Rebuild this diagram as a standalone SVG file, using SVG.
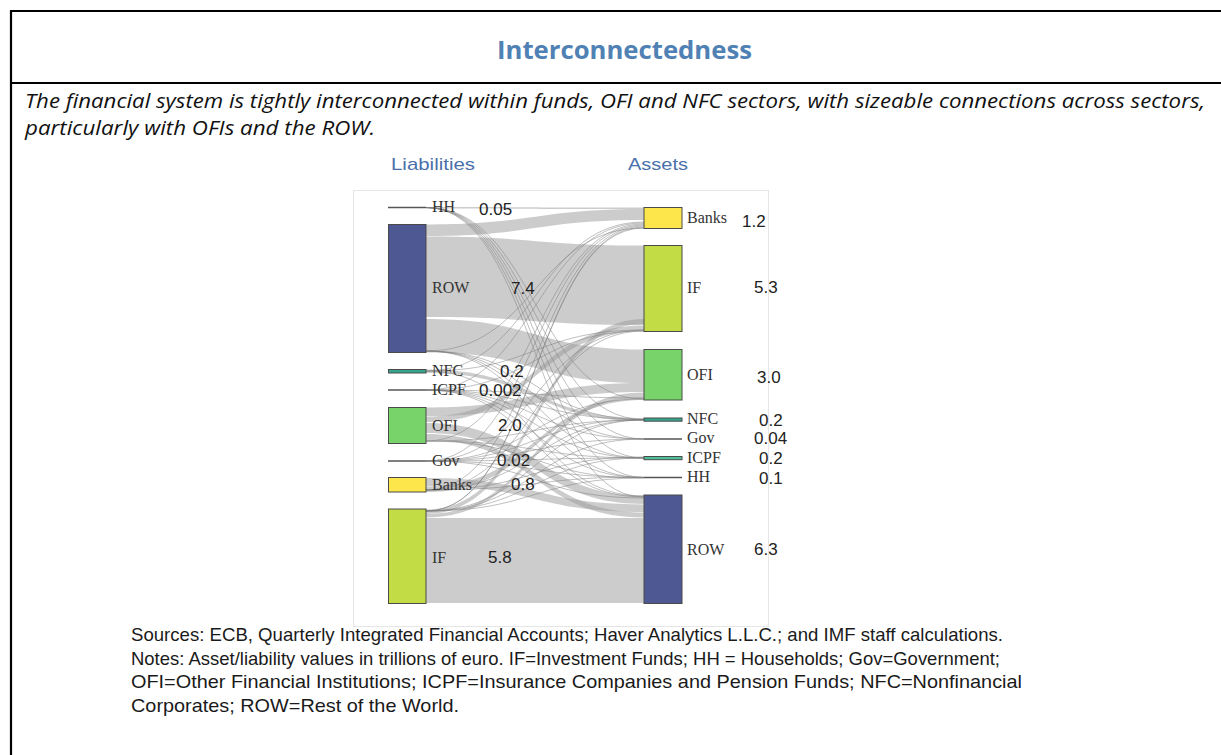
<svg xmlns="http://www.w3.org/2000/svg" width="1221" height="755" viewBox="0 0 1221 755">
<style>
.frame{stroke:#000;stroke-width:2.2;fill:none}
.title{font-family:"Open Sans","Noto Sans",sans-serif;font-weight:700;font-size:25px;fill:#4f81b4}
.lead{font-family:"Open Sans","Noto Sans",sans-serif;font-style:italic;font-size:19.5px;fill:#111}
.axis{font-family:"Liberation Sans",Arial,sans-serif;font-size:17px;fill:#4a6fab}
.lbl{font-family:"Liberation Serif","Times New Roman",serif;font-size:16px;fill:#333}
.val{font-family:"Liberation Sans",Arial,sans-serif;font-size:17px;fill:#222}
.note{font-family:"Liberation Sans",Arial,sans-serif;font-size:19px;fill:#1a1a1a}
.band{fill:#9a9a9a;fill-opacity:0.5}
.ln{fill:none;stroke:#7a7a7a;stroke-width:0.8;stroke-opacity:0.6}
.node{stroke:#4a4a4a;stroke-width:1}
.thin{stroke:#555;stroke-width:1.6}
.row{fill:#4e5892}
.iff{fill:#c1dc45}
.ofi{fill:#78d46a}
.bnk{fill:#fde64b}
.teal{fill:#36a58e}
</style>
<g id="frame">
<line class="frame" x1="11" y1="11" x2="1221" y2="11"/>
<line class="frame" x1="11" y1="83" x2="1221" y2="83"/>
<line class="frame" x1="11" y1="10" x2="11" y2="755"/>
</g>
<text class="title" x="497" y="59" textLength="255" lengthAdjust="spacingAndGlyphs">Interconnectedness</text>
<text class="lead" x="25" y="108" textLength="1180" lengthAdjust="spacingAndGlyphs">The financial system is tightly interconnected within funds, OFI and NFC sectors, with sizeable connections across sectors,</text>
<text class="lead" x="25" y="135" textLength="350" lengthAdjust="spacingAndGlyphs">particularly with OFIs and the ROW.</text>
<rect x="353.5" y="190.5" width="415" height="436" fill="#fff" stroke="#e6e6e6" stroke-width="1"/>
<text class="axis" x="391" y="170" textLength="84" lengthAdjust="spacingAndGlyphs">Liabilities</text>
<text class="axis" x="628" y="170" textLength="60" lengthAdjust="spacingAndGlyphs">Assets</text>
<g id="connectors">
<path class="band" d="M426 207 C535 207 535 207.5 644 207.5 L644 209 C535 209 535 208.5 426 208.5Z"/>
<path class="band" d="M426 224.5 C535 224.5 535 209 644 209 L644 220 C535 220 535 236 426 236Z"/>
<path class="band" d="M426 236.5 C535 236.5 535 245.5 644 245.5 L644 325 C535 325 535 317 426 317Z"/>
<path class="band" d="M426 319 C535 319 535 349.5 644 349.5 L644 383 C535 383 535 352.5 426 352.5Z"/>
<path class="band" d="M426 518 C535 518 535 518 644 518 L644 603 C535 603 535 603 426 603Z"/>
<path class="band" d="M426 407.5 C535 407.5 535 383 644 383 L644 392 C535 392 535 416 426 416Z"/>
<path class="band" d="M426 416.5 C535 416.5 535 325.5 644 325.5 L644 331 C535 331 535 422 426 422Z"/>
<path class="band" d="M426 423 C535 423 535 495.5 644 495.5 L644 504 C535 504 535 433 426 433Z"/>
<path class="band" d="M426 478 C535 478 535 504.5 644 504.5 L644 512 C535 512 535 486 426 486Z"/>
<path class="band" d="M426 509.5 C535 509.5 535 319 644 319 L644 324 C535 324 535 514 426 514Z"/>
<path class="band" d="M426 514 C535 514 535 392.5 644 392.5 L644 397 C535 397 535 517.5 426 517.5Z"/>
<path class="band" d="M426 369.5 C535 369.5 535 418 644 418 L644 421 C535 421 535 373 426 373Z"/>
<path class="band" d="M426 434 C535 434 535 512.5 644 512.5 L644 517.5 C535 517.5 535 440 426 440Z"/>
<path class="band" d="M426 486.5 C535 486.5 535 397 644 397 L644 400 C535 400 535 492 426 492Z"/>
<path class="ln" d="M426 207.5 C535 207.5 535 419.5 644 419.5"/>
<path class="ln" d="M426 207.5 C535 207.5 535 439 644 439"/>
<path class="ln" d="M426 207.5 C535 207.5 535 458 644 458"/>
<path class="ln" d="M426 207.5 C535 207.5 535 477.5 644 477.5"/>
<path class="ln" d="M426 207.5 C535 207.5 535 399 644 399"/>
<path class="ln" d="M426 207.5 C535 207.5 535 497 644 497"/>
<path class="ln" d="M426 351 C535 351 535 419.5 644 419.5"/>
<path class="ln" d="M426 351 C535 351 535 439 644 439"/>
<path class="ln" d="M426 351 C535 351 535 458 644 458"/>
<path class="ln" d="M426 351 C535 351 535 477.5 644 477.5"/>
<path class="ln" d="M426 351 C535 351 535 228 644 228"/>
<path class="ln" d="M426 371 C535 371 535 222 644 222"/>
<path class="ln" d="M426 371 C535 371 535 330 644 330"/>
<path class="ln" d="M426 371 C535 371 535 496 644 496"/>
<path class="ln" d="M426 390 C535 390 535 223 644 223"/>
<path class="ln" d="M426 390 C535 390 535 331 644 331"/>
<path class="ln" d="M426 390 C535 390 535 398 644 398"/>
<path class="ln" d="M426 390 C535 390 535 419.5 644 419.5"/>
<path class="ln" d="M426 390 C535 390 535 439 644 439"/>
<path class="ln" d="M426 390 C535 390 535 458 644 458"/>
<path class="ln" d="M426 390 C535 390 535 477.5 644 477.5"/>
<path class="ln" d="M426 390 C535 390 535 497 644 497"/>
<path class="ln" d="M426 441 C535 441 535 224 644 224"/>
<path class="ln" d="M426 441 C535 441 535 420 644 420"/>
<path class="ln" d="M426 441 C535 441 535 458 644 458"/>
<path class="ln" d="M426 441 C535 441 535 478 644 478"/>
<path class="ln" d="M426 461 C535 461 535 225 644 225"/>
<path class="ln" d="M426 461 C535 461 535 330 644 330"/>
<path class="ln" d="M426 461 C535 461 535 399 644 399"/>
<path class="ln" d="M426 461 C535 461 535 419.5 644 419.5"/>
<path class="ln" d="M426 461 C535 461 535 439 644 439"/>
<path class="ln" d="M426 461 C535 461 535 458 644 458"/>
<path class="ln" d="M426 461 C535 461 535 477.5 644 477.5"/>
<path class="ln" d="M426 461 C535 461 535 498 644 498"/>
<path class="ln" d="M426 490 C535 490 535 226 644 226"/>
<path class="ln" d="M426 490 C535 490 535 331 644 331"/>
<path class="ln" d="M426 490 C535 490 535 420 644 420"/>
<path class="ln" d="M426 490 C535 490 535 457 644 457"/>
<path class="ln" d="M426 490 C535 490 535 477 644 477"/>
<path class="ln" d="M426 511 C535 511 535 227 644 227"/>
<path class="ln" d="M426 511 C535 511 535 228 644 228"/>
<path class="ln" d="M426 511 C535 511 535 420 644 420"/>
<path class="ln" d="M426 511 C535 511 535 439 644 439"/>
<path class="ln" d="M426 511 C535 511 535 458 644 458"/>
<path class="ln" d="M426 511 C535 511 535 478 644 478"/>
</g>
<g id="L-HH"><line class="thin" x1="388" y1="207.5" x2="426" y2="207.5"/><text class="lbl" x="432" y="212">HH</text><text class="val" x="479" y="215">0.05</text></g>
<g id="L-ROW"><rect class="node row" x="388.5" y="224.5" width="37.5" height="128"/><text class="lbl" x="432" y="293">ROW</text><text class="val" x="511" y="294">7.4</text></g>
<g id="L-NFC"><rect class="node teal" x="388.5" y="369.5" width="37.5" height="3.5"/><text class="lbl" x="432" y="376">NFC</text><text class="val" x="500" y="377">0.2</text></g>
<g id="L-ICPF"><line class="thin" x1="388" y1="390" x2="426" y2="390"/><text class="lbl" x="432" y="395">ICPF</text><text class="val" x="479" y="396">0.002</text></g>
<g id="L-OFI"><rect class="node ofi" x="388.5" y="407.5" width="37.5" height="36"/><text class="lbl" x="432" y="431">OFI</text><text class="val" x="498" y="431">2.0</text></g>
<g id="L-Gov"><line class="thin" x1="388" y1="461" x2="426" y2="461"/><text class="lbl" x="432" y="466">Gov</text><text class="val" x="497" y="466">0.02</text></g>
<g id="L-Banks"><rect class="node bnk" x="388.5" y="477.5" width="37.5" height="14.5"/><text class="lbl" x="432" y="490">Banks</text><text class="val" x="511" y="490">0.8</text></g>
<g id="L-IF"><rect class="node iff" x="388.5" y="509" width="37.5" height="94.5"/><text class="lbl" x="432" y="563">IF</text><text class="val" x="488" y="563">5.8</text></g>
<g id="R-Banks"><rect class="node bnk" x="644" y="207.5" width="38" height="21"/><text class="lbl" x="687" y="223">Banks</text><text class="val" x="742" y="227">1.2</text></g>
<g id="R-IF"><rect class="node iff" x="644" y="245.5" width="38" height="86"/><text class="lbl" x="687" y="293">IF</text><text class="val" x="754" y="293">5.3</text></g>
<g id="R-OFI"><rect class="node ofi" x="644" y="349.5" width="38" height="50.5"/><text class="lbl" x="687" y="380">OFI</text><text class="val" x="757" y="383">3.0</text></g>
<g id="R-NFC"><rect class="node teal" x="644" y="418" width="38" height="3.2"/><text class="lbl" x="687" y="424">NFC</text><text class="val" x="759" y="426">0.2</text></g>
<g id="R-Gov"><line class="thin" x1="644" y1="439" x2="682" y2="439"/><text class="lbl" x="687" y="443">Gov</text><text class="val" x="754" y="444">0.04</text></g>
<g id="R-ICPF"><rect x="644" y="456.5" width="38" height="3.2" fill="#4cc09a" class="node"/><text class="lbl" x="687" y="463">ICPF</text><text class="val" x="759" y="464">0.2</text></g>
<g id="R-HH"><line class="thin" x1="644" y1="477.5" x2="682" y2="477.5"/><text class="lbl" x="687" y="482">HH</text><text class="val" x="759" y="484">0.1</text></g>
<g id="R-ROW"><rect class="node row" x="644" y="495" width="38" height="108.5"/><text class="lbl" x="687" y="555">ROW</text><text class="val" x="754" y="555">6.3</text></g>
<g id="notes">
<text class="note" x="131" y="641" textLength="872" lengthAdjust="spacingAndGlyphs">Sources: ECB, Quarterly Integrated Financial Accounts; Haver Analytics L.L.C.; and IMF staff calculations.</text>
<text class="note" x="131" y="664.5" textLength="869" lengthAdjust="spacingAndGlyphs">Notes: Asset/liability values in trillions of euro. IF=Investment Funds; HH = Households; Gov=Government;</text>
<text class="note" x="131" y="688" textLength="891" lengthAdjust="spacingAndGlyphs">OFI=Other Financial Institutions; ICPF=Insurance Companies and Pension Funds; NFC=Nonfinancial</text>
<text class="note" x="131" y="711.5" textLength="328" lengthAdjust="spacingAndGlyphs">Corporates; ROW=Rest of the World.</text>
</g>
</svg>
